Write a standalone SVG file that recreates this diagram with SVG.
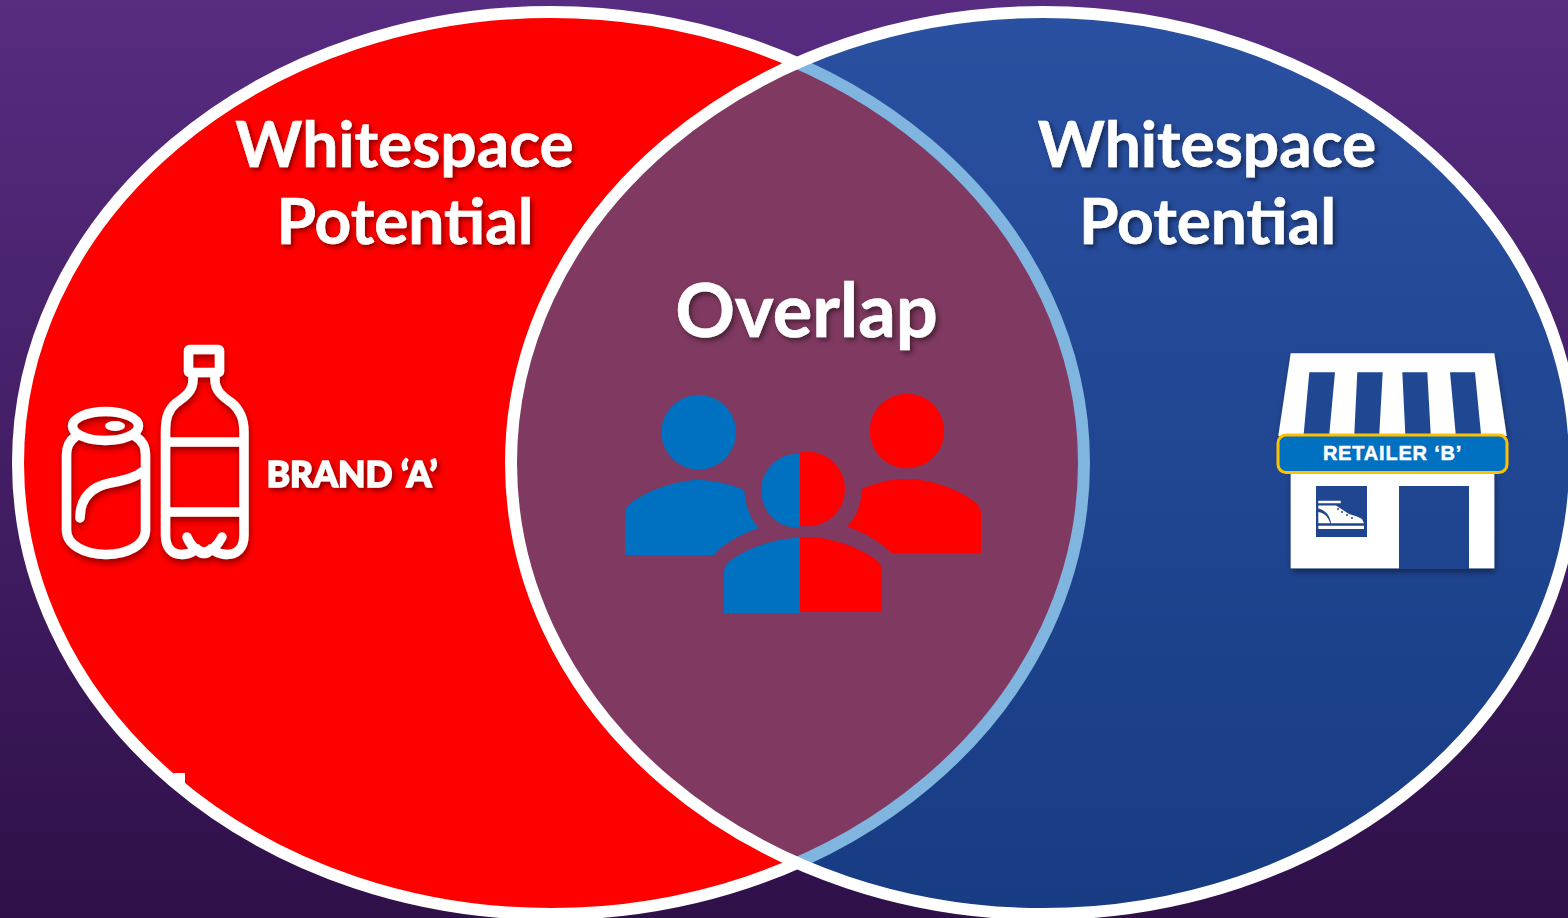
<svg xmlns="http://www.w3.org/2000/svg" width="1568" height="918" viewBox="0 0 1568 918">
<style>
.h{font-family:Lato,"Liberation Sans",sans-serif;font-weight:700;fill:#fff;stroke:#fff;stroke-width:.6;text-anchor:middle;font-size:64px;filter:url(#ts)}
.ic{fill:none;stroke:#fff;stroke-width:9.500;stroke-linecap:round;stroke-linejoin:round}
.b{fill:#0070c0}.r{fill:#f00}.s{fill:#204791}
</style>
<defs>
<linearGradient id="bg" x1="0" y1="0" x2="0" y2="1"><stop offset="0" stop-color="#572c81"/><stop offset="1" stop-color="#2f1049"/></linearGradient>
<linearGradient id="bl" gradientUnits="userSpaceOnUse" x1="0" y1="12" x2="0" y2="914"><stop offset="0" stop-color="#2a50a1"/><stop offset="1" stop-color="#173c83"/></linearGradient>
<filter id="ts" x="-10%" y="-20%" width="120%" height="150%"><feDropShadow dx="2.500" dy="3" stdDeviation="2.500" flood-color="#000" flood-opacity=".45"/></filter>
<filter id="is" x="-15%" y="-10%" width="130%" height="125%"><feDropShadow dx="1" dy="4" stdDeviation="3" flood-color="#000" flood-opacity=".4"/></filter>
<clipPath id="cL"><ellipse cx="551" cy="463" rx="533" ry="451"/></clipPath>
<clipPath id="cR"><ellipse cx="1043" cy="463" rx="532" ry="451"/></clipPath>
<clipPath id="hl"><rect x="600" y="380" width="200" height="240"/></clipPath>
<clipPath id="hr"><rect x="800" y="380" width="200" height="240"/></clipPath>
<path id="mb" d="M-74 75V35C-74 25 -67 22 -59 17C-44 8 -19 0 0 0C19 0 44 8 59 17C67 22 74 25 74 35V75Z"/>
</defs>
<rect width="1568" height="918" fill="url(#bg)"/>
<g id="venn">
<ellipse cx="551" cy="463" rx="533" ry="451" fill="#f00" stroke="#fff" stroke-width="12"/>
<path d="M174 773h11v10h-11z" fill="#fff"/>
<ellipse cx="1043" cy="463" rx="532" ry="451" fill="url(#bl)"/>
<ellipse cx="1043" cy="463" rx="532" ry="451" fill="#803960" clip-path="url(#cL)"/>
<ellipse cx="551" cy="463" rx="533" ry="451" fill="none" stroke="#7fb5de" stroke-width="12" clip-path="url(#cR)"/>
<ellipse cx="1043" cy="463" rx="532" ry="451" fill="none" stroke="#fff" stroke-width="12"/>
</g>
<g id="label-left"><text class="h" x="404.500" y="167">Whitespace</text><text class="h" x="405" y="244">Potential</text></g>
<g id="label-right"><text class="h" x="1207" y="167">Whitespace</text><text class="h" x="1207.500" y="244">Potential</text></g>
<g id="label-overlap"><text class="h" x="806.500" y="337" style="font-size:74px">Overlap</text></g>
<g id="brand-a">
<g filter="url(#is)">
<ellipse class="ic" cx="105.500" cy="426" rx="33" ry="14.500"/>
<ellipse cx="115" cy="426" rx="10" ry="5" fill="#fff"/>
<path class="ic" d="M75 437C69 441 66.500 447 66.500 455V530C66.500 545 85 554.500 106 554.500S145.500 545 145.500 530V455C145.500 447 143 441 136 437"/>
<path class="ic" d="M80 518C80 495 95 486 110 483C125 480 135 478 145 470"/>
<rect class="ic" x="188.500" y="349.500" width="31" height="23" rx="1"/>
<path class="ic" d="M193 375V380C193 392 183 398 176 403C168 410 165.500 418 165.500 432V535C165.500 548 172 554.500 182 554.500C190 554.500 193 551 197 549C201 555 207 555 211 549C215 551 218 554.500 227 554.500C237 554.500 244 548 244 535V432C244 418 240 410 232 403C225 398 215 392 215 380V375"/>
<path class="ic" d="M166 442H243M166 512H243"/>
<path class="ic" d="M187 537C190 545 197 552 204 552C211 552 218 545 222 537"/>
</g>
<text x="352" y="487" text-anchor="middle" font-family="Lato,'Liberation Sans',sans-serif" font-weight="900" font-size="35.500" fill="#fff" stroke="#fff" stroke-width="1.500" filter="url(#ts)">BRAND ‘A’</text>
</g>
<g id="retailer-b">
<g filter="url(#is)">
<path d="M1290.700 353.300H1494.300L1506.700 436H1278.300Z" fill="#fff"/>
<rect x="1290.700" y="470" width="203.600" height="98.300" fill="#fff"/>
</g>
<path class="s" d="M1309.300 372.300H1335L1329.300 434H1303.700ZM1357.300 372.300H1382.700L1379.300 434H1354.300ZM1402.300 372.300H1427.300L1430.700 434H1405.300ZM1450 372.300H1475L1481 434H1455.700Z"/>
<path fill="url(#bl)" d="M1399 486H1469V569H1399ZM1316 486H1367V537H1316Z"/>
<path fill="#fff" d="M1318.300 500.700H1340.700V503.300H1318.300ZM1318.300 525.700H1364V529H1318.300ZM1318.300 505.500H1336L1349 514L1357 516.500L1362 519L1364 523.300H1331C1330 515 1325 510 1318.300 508.500ZM1318.300 512C1325 513 1329 518 1330 523.300H1318.300Z"/>
<g fill="#204791"><circle cx="1338" cy="509" r="1"/><circle cx="1342" cy="512" r="1"/><circle cx="1347" cy="515" r="1"/><circle cx="1352" cy="518" r="1"/></g>
<rect x="1278" y="435" width="229" height="37.500" rx="8" fill="#0070c0" stroke="#ffc000" stroke-width="3"/>
<text x="1392.500" y="459.500" text-anchor="middle" font-family="'Liberation Sans',Arial,sans-serif" font-weight="700" font-size="20" letter-spacing=".8" fill="#fff" stroke="#fff" stroke-width=".5">RETAILER ‘B’</text>
</g>
<g id="people">
<g id="person-blue"><circle class="b" cx="698.700" cy="432.300" r="37.300"/><path class="b" d="M625 555V515C625 505 632 502 640 497C655 488 680 480 699 480C715 480 735 486 744.300 490C745 505 750 518 758.500 528.300C740 534 722 545 714 555Z"/></g>
<g id="person-red"><circle class="r" cx="907" cy="431" r="37.300"/><path class="r" d="M861.700 489.300C875 483 890 479 907 479C930 479 950 487 966 496C975 502 981 505 981 515V553.300H891.700C883 544 865 532 847.300 526.700C856 517 861.700 505 861.700 489.300Z"/></g>
<g id="person-mid">
<g clip-path="url(#hl)"><circle class="b" cx="798.300" cy="490.800" r="37.300"/><use href="#mb" class="b" x="798" y="538"/></g>
<g clip-path="url(#hr)"><circle class="r" cx="807.700" cy="489" r="37.300"/><use href="#mb" class="r" x="808" y="537"/></g>
</g>
</g>
</svg>
